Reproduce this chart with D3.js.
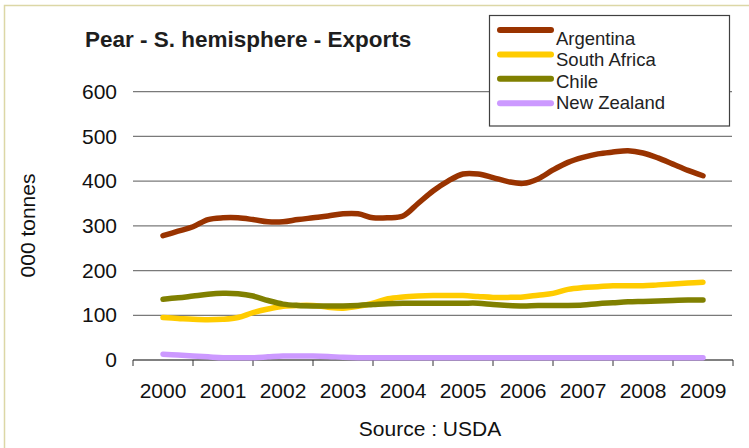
<!DOCTYPE html>
<html>
<head>
<meta charset="utf-8">
<script src="https://cdn.jsdelivr.net/npm/d3@7/dist/d3.min.js"></script>
<style>
  html, body { margin: 0; padding: 0; background: #fff; }
  svg { display: block; font-family: "Liberation Sans", Arial, sans-serif; }
</style>
</head>
<body>
<svg id="chart" width="749" height="448"></svg>
<script>
// Year categories on the x axis
const years = ["2000", "2001", "2002", "2003", "2004", "2005", "2006", "2007", "2008", "2009"];
// Y axis tick values (000 tonnes)
const yTicks = [0, 100, 200, 300, 400, 500, 600];

// Quarterly export volumes, 000 tonnes, from Q1 2000 to Q1 2009
const argentina = [278, 288, 298, 314, 318, 318, 314, 309, 309, 314, 318, 322, 327, 327, 318, 318,
  322, 350, 378, 400, 416, 416, 408, 399, 395, 405, 425, 442, 453, 461, 465, 468, 463, 452, 438, 424, 412];
const southAfrica = [95, 93, 91, 90, 91, 95, 106, 114, 120, 122, 122, 118, 116, 120, 127, 137,
  141, 143, 144, 144, 144, 142, 140, 140, 141, 145, 149, 158, 162, 164, 166, 166, 166, 168, 170, 172, 174];
const chile = [136, 139, 143, 147, 149, 148, 143, 133, 125, 122, 121, 121, 121, 122, 124, 126,
  127, 127, 127, 127, 127, 127, 124, 122, 121, 122, 122, 122, 123, 126, 128, 130, 131, 132, 133, 134, 134];
const newZealand = [13, 11, 9, 7, 5, 5, 5, 7, 9, 9, 9, 8, 6, 5, 5, 5,
  5, 5, 5, 5, 5, 5, 5, 5, 5, 5, 5, 5, 5, 5, 5, 5, 5, 5, 5, 5, 5];

const seriesNames = ["Argentina", "South Africa", "Chile", "New Zealand"];
const seriesColors = ["#993300", "#FFCC00", "#808000", "#CC99FF"];
const seriesValues = [argentina, southAfrica, chile, newZealand];

const svg = d3.select("#chart");

// Thin khaki frame along the top and left edges
svg.append("rect")
  .attr("x", 4.5).attr("y", 5.5)
  .attr("width", 800).attr("height", 500)
  .attr("fill", "none")
  .attr("stroke", "#dcd7a6")
  .attr("stroke-width", 1.5);

const plot = { left: 133, right: 733, top: 91.7, bottom: 360 };

const xBand = d3.scaleBand().domain(years).range([plot.left, plot.right]);
// Continuous year scale for quarterly points (band centre = start of year)
const xYear = d3.scaleLinear()
  .domain([+years[0] - 0.5, +years[years.length - 1] + 0.5])
  .range([plot.left, plot.right]);
const y = d3.scaleLinear().domain([0, 600]).range([plot.bottom, plot.top]);

// Horizontal gridlines
svg.append("g")
  .selectAll("line")
  .data(yTicks.filter(d => d > 0))
  .join("line")
  .attr("x1", plot.left).attr("x2", plot.right - 1)
  .attr("y1", d => y(d)).attr("y2", d => y(d))
  .attr("stroke", "#7a7a7a")
  .attr("stroke-width", 1.2);

// Y tick labels
svg.append("g")
  .selectAll("text")
  .data(yTicks)
  .join("text")
  .attr("x", 117)
  .attr("y", d => y(d))
  .attr("dy", "0.34em")
  .attr("text-anchor", "end")
  .attr("font-size", 21)
  .attr("fill", "#111")
  .text(d => d);

// X axis with tick marks between years
const xAxis = d3.axisBottom(xBand).tickSize(0).tickFormat("");
const axisG = svg.append("g")
  .attr("transform", `translate(0,${plot.bottom})`)
  .call(xAxis);
axisG.select(".domain").remove();

svg.append("line")
  .attr("x1", plot.left).attr("x2", plot.right)
  .attr("y1", plot.bottom).attr("y2", plot.bottom)
  .attr("stroke", "#808080")
  .attr("stroke-width", 2);

const tickXs = years.map(d => xBand(d)).concat([xBand(years[years.length - 1]) + xBand.bandwidth()]);
svg.append("g")
  .selectAll("line")
  .data(tickXs)
  .join("line")
  .attr("x1", d => d).attr("x2", d => d)
  .attr("y1", plot.bottom).attr("y2", plot.bottom + 6)
  .attr("stroke", "#333")
  .attr("stroke-width", 1);

// X tick labels
svg.append("g")
  .selectAll("text")
  .data(years)
  .join("text")
  .attr("x", d => xBand(d) + xBand.bandwidth() / 2)
  .attr("y", 398)
  .attr("text-anchor", "middle")
  .attr("font-size", 21)
  .attr("fill", "#111")
  .text(d => d);

// Axis titles
svg.append("text")
  .attr("transform", "translate(35,225.5) rotate(-90)")
  .attr("text-anchor", "middle")
  .attr("font-size", 21)
  .attr("fill", "#111")
  .text("000 tonnes");

svg.append("text")
  .attr("x", 430).attr("y", 436)
  .attr("text-anchor", "middle")
  .attr("font-size", 21)
  .attr("fill", "#111")
  .text("Source : USDA");

// Chart title
svg.append("text")
  .attr("x", 85).attr("y", 47)
  .attr("font-size", 22.5)
  .attr("font-weight", "bold")
  .attr("fill", "#1e1e1e")
  .text("Pear - S. hemisphere - Exports");

// Series lines (smoothed)
const line = d3.line()
  .x((d, i) => xYear(+years[0] + i / 4))
  .y(d => y(d))
  .curve(d3.curveCatmullRom.alpha(0.5));

svg.append("g")
  .selectAll("path")
  .data(seriesValues)
  .join("path")
  .attr("d", d => line(d))
  .attr("fill", "none")
  .attr("stroke", (d, i) => seriesColors[i])
  .attr("stroke-width", 5.5)
  .attr("stroke-linecap", "round")
  .attr("stroke-linejoin", "round");

// Legend
const legend = svg.append("g");
legend.append("rect")
  .attr("x", 489.5).attr("y", 15.5)
  .attr("width", 240).attr("height", 110.5)
  .attr("fill", "#fff")
  .attr("stroke", "#404040")
  .attr("stroke-width", 1.2);

const entries = legend.selectAll("g.entry")
  .data(seriesNames)
  .join("g")
  .attr("class", "entry");

entries.append("line")
  .attr("x1", 500).attr("x2", 551)
  .attr("y1", (d, i) => 30 + i * 24.4)
  .attr("y2", (d, i) => 30 + i * 24.4)
  .attr("stroke", (d, i) => seriesColors[i])
  .attr("stroke-width", 6)
  .attr("stroke-linecap", "round");

entries.append("text")
  .attr("x", 556)
  .attr("y", (d, i) => 45 + i * 21.4)
  .attr("font-size", 18.5)
  .attr("fill", "#222")
  .text(d => d);
</script>
</body>
</html>
